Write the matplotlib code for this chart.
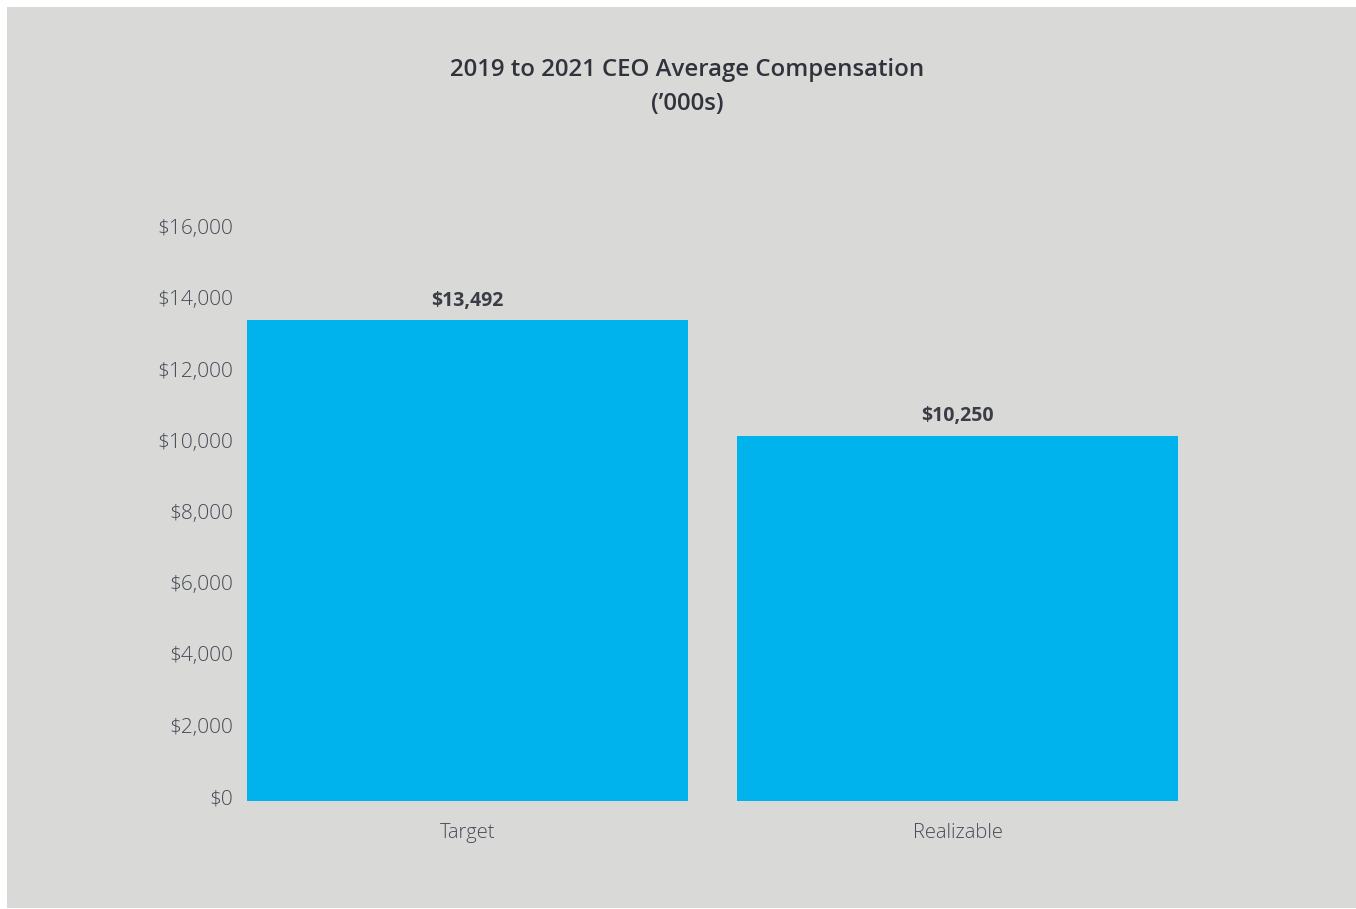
import matplotlib.pyplot as plt
import matplotlib.patches as patches
import matplotlib.transforms as mtransforms
import numpy as np

categories = ['Target', 'Realizable']
values = [13492, 10250]
yticks = [0, 2000, 4000, 6000, 8000, 10000, 12000, 14000, 16000]

plt.rcParams['font.family'] = ['Open Sans', 'DejaVu Sans']

W, H = 1356, 909
fig = plt.figure(figsize=(W / 100, H / 100), dpi=100, facecolor='white')

# gray panel behind everything
bg = patches.Rectangle((7 / W, 1 / H), 1 - 7 / W, (H - 8) / H, transform=fig.transFigure,
                       facecolor='#d9d9d8', edgecolor='none', zorder=-10)
fig.patches.append(bg)

ax = fig.add_axes([222.5 / W, (H - 801) / H, (1202.5 - 222.5) / W, (801 - 231) / H])
ax.set_facecolor('none')

x = np.arange(len(categories))
bars = ax.bar(x, values, width=0.9, color='#00b3ec')
ax.set_xlim(-0.5, 1.5)
ax.set_ylim(0, 16000)

ax.set_yticks(yticks)
ax.set_yticklabels(['${:,}'.format(v) for v in yticks], fontsize=15, color='#464a53',
                   fontweight='light')
ax.set_xticks(x)
ax.set_xticklabels(categories, fontsize=14.5, color='#464a53', fontweight='light')
ax.tick_params(axis='y', length=0, pad=-9)
ax.tick_params(axis='x', length=0, pad=16)
# nudge y labels a little left and down to match the original placement
offset = mtransforms.ScaledTranslation(-2 / 100, -3 / 100, fig.dpi_scale_trans)
for lab in ax.get_yticklabels():
    lab.set_horizontalalignment('right')
    lab.set_verticalalignment('baseline')
    lab.set_transform(lab.get_transform() + offset)
for s in ax.spines.values():
    s.set_visible(False)

for b, v in zip(bars, values):
    ax.annotate('${:,}'.format(v), (b.get_x() + b.get_width() / 2, v), xytext=(0, 7),
                textcoords='offset points', ha='center', va='bottom',
                fontsize=14, fontweight='bold', color='#3a3d45')

fig.text(687 / W, 1 - 70 / H, '2019 to 2021 CEO Average Compensation', ha='center', va='center',
         fontsize=17.3, fontweight='semibold', color='#30333b')
fig.text(687 / W, 1 - 104 / H, "(’000s)", ha='center', va='center',
         fontsize=17.3, fontweight='semibold', color='#30333b')

fig.savefig('out.png', dpi=100, facecolor=fig.get_facecolor())
